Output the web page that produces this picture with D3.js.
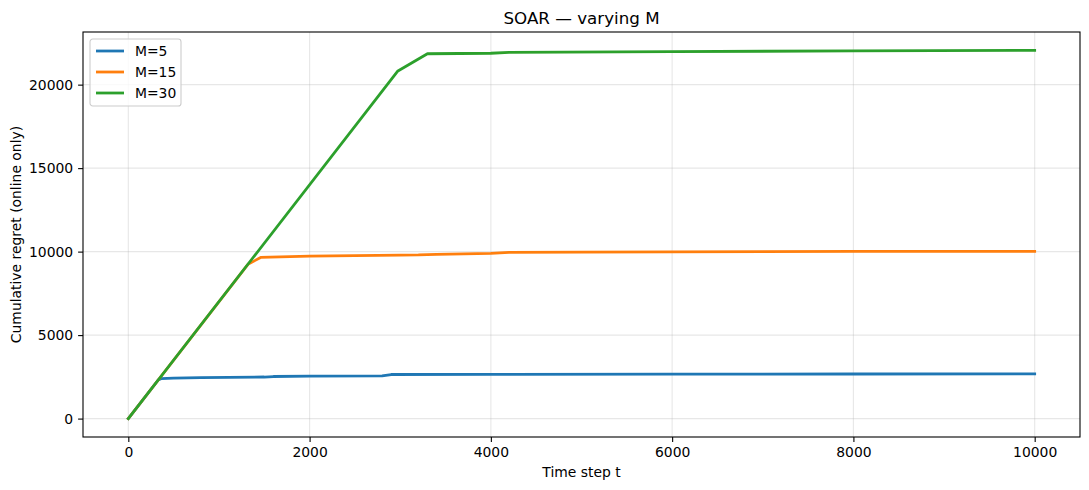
<html><head><meta charset="utf-8"/>
<title>SOAR — varying M</title>
<script src="https://d3js.org/d3.v7.min.js"></script>
<style>
  body { margin: 0; padding: 0; background: #fff; }
  svg text { font-family: 'DejaVu Sans', sans-serif; fill: #000; }
</style>
</head>
<body>
<div id="chart"></div>
<script>
// series (time step, cumulative regret)
const seriesNames = ["M=5", "M=15", "M=30"];
const seriesColors = ["#1f77b4", "#ff7f0e", "#2ca02c"];
const m5 = [[0,0],[330,2310],[360,2390],[500,2420],[800,2450],[1500,2490],[1600,2520],[2000,2540],[2800,2560],[2900,2640],[4000,2650],[6000,2660],[8000,2670],[10000,2680]];
const m15 = [[0,0],[1320,9240],[1460,9650],[2000,9730],[3000,9790],[3200,9800],[3400,9840],[4000,9900],[4200,9950],[5000,9970],[6000,9990],[8000,10010],[10000,10020]];
const m30 = [[0,0],[2970,20800],[3300,21850],[4000,21880],[4200,21930],[6000,21980],[8000,22020],[10000,22050]];
const xTicks = [0, 2000, 4000, 6000, 8000, 10000];
const yTicks = [0, 5000, 10000, 15000, 20000];

const W = 1089, H = 490;
const margin = {top: 32, right: 9, bottom: 53, left: 83};
const iw = W - margin.left - margin.right;
const ih = H - margin.top - margin.bottom;

const all = [m5, m15, m30];
const xMin = 0, xMax = 10000;
const yMin = 0, yMax = d3.max(all, s => d3.max(s, d => d[1]));
const xPad = (xMax - xMin) * 0.05, yPad = (yMax - yMin) * 0.05;

const x = d3.scaleLinear().domain([xMin - xPad, xMax + xPad]).range([0, iw]);
const y = d3.scaleLinear().domain([yMin - yPad, yMax + yPad]).range([ih, 0]);

const svg = d3.select("#chart").append("svg").attr("width", W).attr("height", H);
const g = svg.append("g").attr("transform", `translate(${margin.left},${margin.top})`);

// grid
g.append("g").selectAll("line").data(xTicks).join("line")
  .attr("x1", d => x(d)).attr("x2", d => x(d)).attr("y1", 0).attr("y2", ih)
  .attr("stroke", "#b0b0b0").attr("stroke-opacity", 0.3).attr("stroke-width", 1.1);
g.append("g").selectAll("line").data(yTicks).join("line")
  .attr("y1", d => y(d)).attr("y2", d => y(d)).attr("x1", 0).attr("x2", iw)
  .attr("stroke", "#b0b0b0").attr("stroke-opacity", 0.3).attr("stroke-width", 1.1);

// lines
const line = d3.line().x(d => x(d[0])).y(d => y(d[1]));
g.append("defs").append("clipPath").attr("id", "clip")
  .append("rect").attr("width", iw).attr("height", ih);
const lines = g.append("g").attr("clip-path", "url(#clip)");
all.forEach((s, i) => {
  lines.append("path").datum(s).attr("d", line)
    .attr("fill", "none").attr("stroke", seriesColors[i])
    .attr("stroke-width", 2.78).attr("stroke-linejoin", "round").attr("stroke-linecap", "square");
});

// axes
const xAxis = g.append("g").attr("transform", `translate(0,${ih})`)
  .call(d3.axisBottom(x).tickValues(xTicks).tickFormat(d3.format("d")).tickSize(4.9).tickPadding(4.9));
const yAxis = g.append("g")
  .call(d3.axisLeft(y).tickValues(yTicks).tickFormat(d3.format("d")).tickSize(4.9).tickPadding(4.9));
[xAxis, yAxis].forEach(a => {
  a.select(".domain").remove();
  a.selectAll(".tick line").attr("stroke", "#000").attr("stroke-width", 1.1);
  a.selectAll(".tick text").attr("font-size", "13.9px").attr("fill", "#000")
    .style("font-family", "'DejaVu Sans', sans-serif");
});

// frame
g.append("rect").attr("width", iw).attr("height", ih)
  .attr("fill", "none").attr("stroke", "#000").attr("stroke-width", 1.1);

// labels
svg.append("text").attr("x", margin.left + iw / 2).attr("y", 24)
  .attr("text-anchor", "middle").attr("font-size", "16.7px").text("SOAR — varying M");
svg.append("text").attr("x", margin.left + iw / 2).attr("y", 477)
  .attr("text-anchor", "middle").attr("font-size", "13.9px").text("Time step t");
svg.append("text")
  .attr("transform", `translate(21,${margin.top + ih / 2}) rotate(-90)`)
  .attr("text-anchor", "middle").attr("font-size", "13.9px").text("Cumulative regret (online only)");

// legend
const lg = g.append("g").attr("transform", "translate(7,7)");
lg.append("rect").attr("width", 91).attr("height", 67).attr("rx", 2.8)
  .attr("fill", "#fff").attr("fill-opacity", 0.8).attr("stroke", "#cccccc").attr("stroke-width", 1.1);
seriesNames.forEach((n, i) => {
  const yy = 12 + i * 21;
  lg.append("line").attr("x1", 6).attr("x2", 34).attr("y1", yy).attr("y2", yy)
    .attr("stroke", seriesColors[i]).attr("stroke-width", 2.78);
  lg.append("text").attr("x", 45).attr("y", yy + 5).attr("font-size", "13.9px").text(n);
});
</script>
</body></html>
